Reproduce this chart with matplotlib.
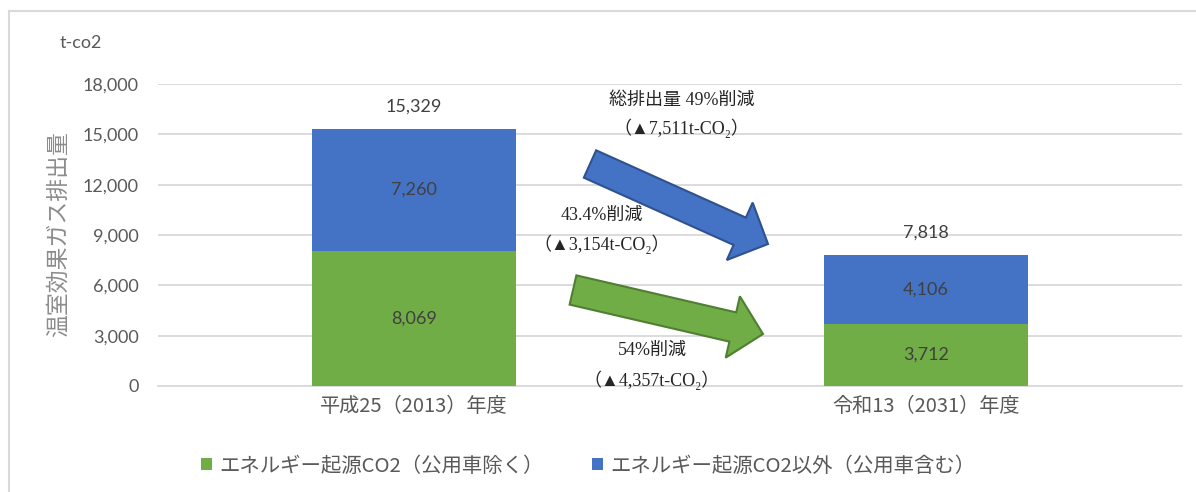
import matplotlib
matplotlib.use("Agg")
import matplotlib.pyplot as plt
from matplotlib.patches import FancyArrow
from matplotlib.lines import Line2D
from matplotlib.transforms import IdentityTransform
import numpy as np

# ---- data ----
categories = ["平成25（2013）年度", "令和13（2031）年度"]
energy_co2 = [8069, 3712]          # エネルギー起源CO2（公用車除く）
other_co2 = [7260, 4106]           # エネルギー起源CO2以外（公用車含む）
series_names = ["エネルギー起源CO2（公用車除く）", "エネルギー起源CO2以外（公用車含む）"]
yticks = [0, 3000, 6000, 9000, 12000, 15000, 18000]
ylabel = "温室効果ガス排出量"
unit_label = "t-co2"
notes = [
    ("総排出量 49%削減", "（▲7,511t-CO₂）"),
    ("43.4%削減", "（▲3,154t-CO₂）"),
    ("54%削減", "（▲4,357t-CO₂）"),
]

W, H = 1196, 492
GREEN = "#70AD47"
BLUE = "#4472C4"
TICK_C = "#595959"
LABEL_C = "#404040"
GRID_C = "#D9D9D9"
NUM_FONT = ["Lato", "Noto Sans CJK JP", "DejaVu Sans"]
JP_FONT = ["Noto Sans CJK JP", "DejaVu Sans"]
SERIF = ["Liberation Serif", "Noto Sans CJK JP", "DejaVu Serif"]

fig = plt.figure(figsize=(W / 100, H / 100), dpi=100)
fig.patch.set_facecolor("white")

def px(x, y):
    return x, H - y

ax = fig.add_axes([158 / W, 1 - 386 / H, 1024 / W, 302 / H])
x = np.arange(len(categories))
bw = 0.4
b1 = ax.bar(x, energy_co2, bw, color=GREEN, label=series_names[0], zorder=3)
b2 = ax.bar(x, other_co2, bw, bottom=energy_co2, color=BLUE, label=series_names[1], zorder=3)

ax.set_xlim(-0.5, 1.5)
ax.set_ylim(0, 18000)
ax.set_yticks(yticks)
ax.set_yticklabels([f"{v:,}" for v in yticks], family=NUM_FONT, fontsize=13, color=TICK_C)
ax.set_xticks(x)
ax.set_xticklabels(categories, family=JP_FONT, fontsize=14.5, color=TICK_C)
ax.tick_params(axis="y", length=0, pad=14)
ax.tick_params(axis="x", length=0, pad=7)
ax.grid(axis="y", color=GRID_C, lw=1.3, zorder=0)
for s in ["top", "right", "left"]:
    ax.spines[s].set_visible(False)
ax.spines["bottom"].set_color(GRID_C)
ax.spines["bottom"].set_linewidth(1.3)

# value labels
for i in range(len(categories)):
    ax.text(x[i], energy_co2[i] / 2, f"{energy_co2[i]:,}", ha="center", va="center",
            family=NUM_FONT, fontsize=13, color=LABEL_C, zorder=4)
    ax.text(x[i], energy_co2[i] + other_co2[i] / 2, f"{other_co2[i]:,}", ha="center", va="center",
            family=NUM_FONT, fontsize=13, color=LABEL_C, zorder=4)
    tot = energy_co2[i] + other_co2[i]
    ax.annotate(f"{tot:,}", (x[i], tot), xytext=(0, 16), textcoords="offset points",
                ha="center", va="center", family=NUM_FONT, fontsize=13, color=LABEL_C)

# y label and unit
fig.text(58 / W, 1 - 234 / H, ylabel, rotation=90, ha="center", va="center",
         family=JP_FONT, fontsize=16.5, color="#8C8C8C")
fig.text(60 / W, 1 - 43 / H, unit_label, ha="left", va="center",
         family=NUM_FONT, fontsize=13, color=TICK_C)

# arrows (pixel coordinates)
def arrow(tail, tip, fc, ec):
    tx, ty = px(*tail)
    hx, hy = px(*tip)
    a = FancyArrow(tx, ty, hx - tx, hy - ty, width=30, head_width=63, head_length=31,
                   length_includes_head=True, transform=IdentityTransform(),
                   fc=fc, ec=ec, lw=1.5, zorder=5)
    fig.add_artist(a)

arrow((590, 164), (768, 244), BLUE, "#2F528F")
arrow((573, 290), (763, 334), GREEN, "#507E32")

note_pos = [((682, 100), (681, 128)), ((602, 215), (602, 244)), ((652, 350), (652, 380))]
for (l1, l2), (p1, p2) in zip(notes, note_pos):
    fig.text(p1[0] / W, 1 - p1[1] / H, l1, ha="center", va="center", family=SERIF,
             fontsize=13, color="#262626")
    fig.text(p2[0] / W, 1 - p2[1] / H, l2, ha="center", va="center", family=SERIF,
             fontsize=13, color="#262626")

# legend
leg = fig.legend(handles=[b1, b2], loc="center", bbox_to_anchor=(588 / W, 1 - 466 / H),
                 ncol=2, frameon=False, handlelength=0.55, handleheight=0.55,
                 handletextpad=0.35, columnspacing=2.35,
                 prop={"family": JP_FONT, "size": 14.7})
for t in leg.get_texts():
    t.set_color(TICK_C)

# chart border
fig.add_artist(Line2D([9, W], [H - 11, H - 11], transform=IdentityTransform(), color=GRID_C, lw=1.5))
fig.add_artist(Line2D([9, 9], [H - 11, 0], transform=IdentityTransform(), color=GRID_C, lw=1.5))

fig.savefig("out.png", dpi=100)
